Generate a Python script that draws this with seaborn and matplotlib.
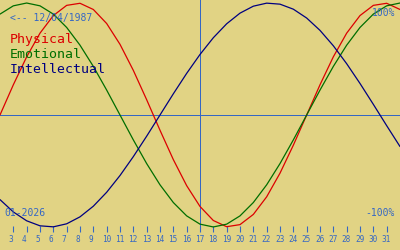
import matplotlib
matplotlib.use("Agg")
import matplotlib.pyplot as plt
import matplotlib.transforms as mtransforms
import seaborn as sns
import pandas as pd

# ---- data ----
days = list(range(2, 33))
physical = [0.0, 0.2698, 0.5196, 0.7308, 0.8879, 0.9791, 0.9977, 0.9423, 0.8170,
            0.6311, 0.3984, 0.1362, -0.1362, -0.3984, -0.6311, -0.8170, -0.9423,
            -0.9977, -0.9791, -0.8879, -0.7308, -0.5196, -0.2698, 0.0, 0.2698,
            0.5196, 0.7308, 0.8879, 0.9791, 0.9977, 0.9423]
emotional = [0.9010, 0.9749, 1.0, 0.9749, 0.9010, 0.7818, 0.6235, 0.4339, 0.2225,
             0.0, -0.2225, -0.4339, -0.6235, -0.7818, -0.9010, -0.9749, -1.0,
             -0.9749, -0.9010, -0.7818, -0.6235, -0.4339, -0.2225, 0.0, 0.2225,
             0.4339, 0.6235, 0.7818, 0.9010, 0.9749, 1.0]
intellectual = [-0.7557, -0.8660, -0.9450, -0.9898, -0.9989, -0.9718, -0.9096,
                -0.8146, -0.6901, -0.5406, -0.3717, -0.1893, 0.0, 0.1893, 0.3717,
                0.5406, 0.6901, 0.8146, 0.9096, 0.9718, 0.9989, 0.9898, 0.9450,
                0.8660, 0.7557, 0.6182, 0.4582, 0.2817, 0.0951, -0.0951, -0.2817]
tick_days = list(range(3, 32))
tick_labels = [str(d) for d in tick_days]
today_day = 17
series_names = ["Physical", "Emotional", "Intellectual"]
birth_label = "<-- 12/04/1987"
month_label = "01-2026"
top_label = "100%"
bottom_label = "-100%"

# ---- style ----
BG = "#e1d384"
BLUE = "#3567c4"
COLORS = {"Physical": "#dc0000", "Emotional": "#006e00", "Intellectual": "#000080"}

sns.set_style("white")
plt.rcParams["font.family"] = ["DejaVu Sans Mono", "DejaVu Sans"]

fig = plt.figure(figsize=(4, 2.5), dpi=100, facecolor=BG)
ax = fig.add_axes([0, 18 / 250, 1, 232 / 250])
ax.set_facecolor(BG)

df = pd.DataFrame({
    "day": days * 3,
    "value": physical + emotional + intellectual,
    "series": [n for n in series_names for _ in days],
})

ax.axhline(0, color=BLUE, lw=0.7, zorder=1, antialiased=False)
ax.axvline(today_day, color=BLUE, lw=0.7, zorder=1, antialiased=False)

for name in series_names:
    sns.lineplot(data=df[df["series"] == name], x="day", y="value",
                 color=COLORS[name], lw=0.9, ax=ax, zorder=3)

ax.set_xlim(2, 32)
ax.set_ylim(-1.045, 1.027)
ax.set_xlabel("")
ax.set_ylabel("")
ax.set_yticks([])
ax.set_xticks(tick_days)
ax.set_xticklabels(tick_labels)
ax.tick_params(axis="x", direction="in", length=4.3, width=0.8, color=BLUE,
               labelcolor=BLUE, labelsize=5.6, pad=2, bottom=True)
offset = mtransforms.ScaledTranslation(-5 / 100, 0, fig.dpi_scale_trans)
for lab in ax.get_xticklabels():
    lab.set_horizontalalignment("left")
    lab.set_transform(lab.get_transform() + offset)
for s in ax.spines.values():
    s.set_visible(False)


def px(x, y):
    return x / 400, 1 - y / 250


fig.text(*px(10, 21), birth_label, color=BLUE, fontsize=7, va="baseline", ha="left")
fig.text(*px(395, 16), top_label, color=BLUE, fontsize=7, va="baseline", ha="right")
fig.text(*px(395, 216), bottom_label, color=BLUE, fontsize=7, va="baseline", ha="right")
fig.text(*px(4, 216), month_label, color=BLUE, fontsize=7, va="baseline", ha="left")
for name, base in zip(series_names, [43, 58, 73]):
    fig.text(*px(10, base), name, color=COLORS[name], fontsize=9.5,
             va="baseline", ha="left")

fig.savefig("out.png", dpi=100, facecolor=BG)
